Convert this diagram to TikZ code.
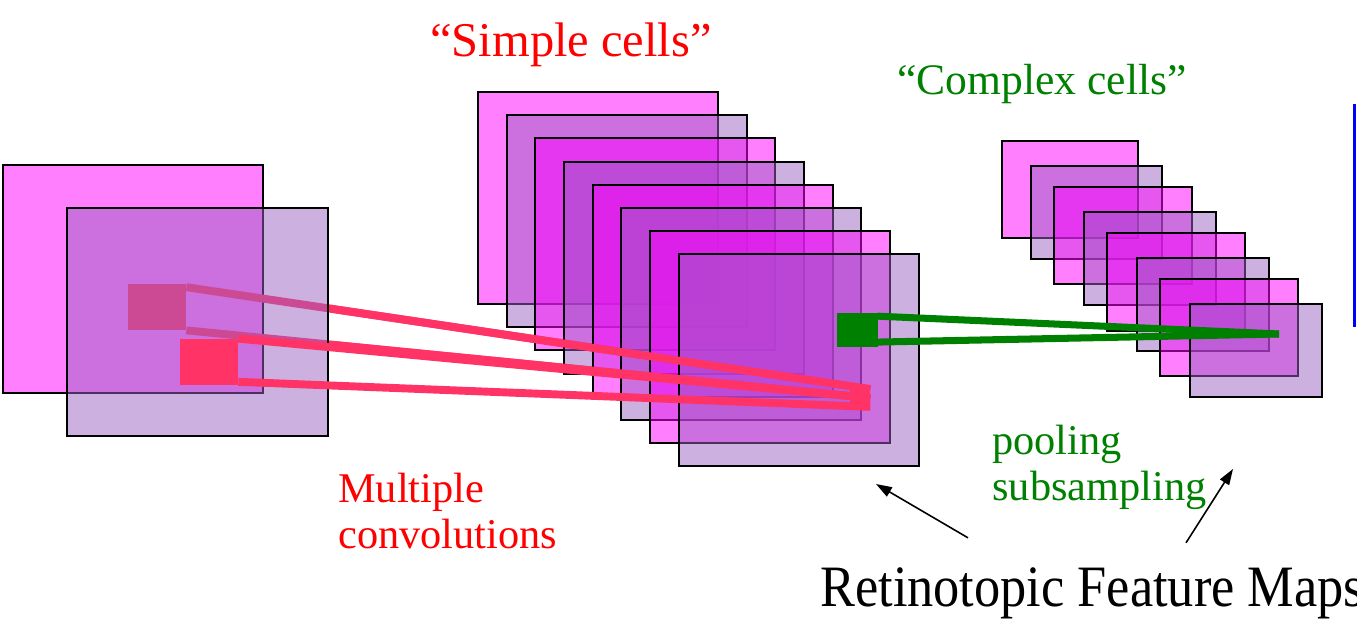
\documentclass[tikz,border=0pt]{standalone}
\usepackage{fontspec}
\setmainfont{Liberation Serif}
\usepackage{graphicx}
\usepackage{tikz}
\usetikzlibrary{positioning,arrows.meta,calc}
\definecolor{cnMagenta}{HTML}{FF00FF}
\definecolor{cnLilac}{HTML}{9961C1}
\definecolor{cnConv}{HTML}{FF3366}
\definecolor{cnPool}{HTML}{008000}
\definecolor{cnRed}{HTML}{FF0000}
\definecolor{cnBlue}{HTML}{0000FF}
\tikzset{
  cn-map/.style={draw=black, line width=1pt, fill opacity=0.5},
  cn-pink/.style={cn-map, fill=cnMagenta},
  cn-lilac/.style={cn-map, fill=cnLilac},
  cn-patch/.style={rectangle, inner sep=0pt, draw=none, fill=cnConv},
  cn-conv/.style={draw=cnConv, line width=4.5pt},
  cn-pool/.style={draw=cnPool, line width=4pt},
  cn-ptr/.style={-{Triangle[length=9pt,width=6pt]}, line width=0.9pt, draw=black},
  cn-text/.style={inner sep=0pt, align=left, font=\fontsize{24.1}{26}\selectfont}
}

\begin{document}
\begin{tikzpicture}[x=0.02cm, y=-0.02cm]
\useasboundingbox (0,0) rectangle (1357,621);

% Input image
\draw[cn-pink] (3,165) rectangle (263,393);
\node[cn-patch, minimum width=1.16cm, minimum height=0.92cm] (s1) at (157,307) {};
\node[cn-patch, minimum width=0.4cm, minimum height=0.34cm] (tgt) at (860,398) {};
\draw[cn-conv] ([yshift=-2pt]s1.north east) -- (tgt.north east);
\draw[cn-conv] (s1.south east) -- (tgt.east);
\draw[cn-lilac] (67,208) rectangle (328,436);

% Simple cells
\draw[cn-pink]  (478,92)  rectangle (718,304);
\draw[cn-lilac] (507,115) rectangle (747,327);
\draw[cn-pink]  (535,138) rectangle (775,350);
\draw[cn-lilac] (564,162) rectangle (804,374);
\draw[cn-pink]  (593,185) rectangle (833,397);
\draw[cn-lilac] (621,208) rectangle (861,420);
\draw[cn-pink]  (650,231) rectangle (890,443);
\draw[cn-lilac] (679,254) rectangle (919,466);

% Complex cells
\draw[cn-pink]  (1002,141) rectangle (1138,238);
\draw[cn-lilac] (1031,166) rectangle (1162,259);
\draw[cn-pink]  (1054,187) rectangle (1192,284);
\draw[cn-lilac] (1084,212) rectangle (1216,305);
\draw[cn-pink]  (1107,233) rectangle (1245,331);
\draw[cn-lilac] (1137,258) rectangle (1269,351);
\draw[cn-pink]  (1160,279) rectangle (1298,376);
\draw[cn-lilac] (1190,304) rectangle (1322,397);

% Convolution kernels
\begin{scope}
  \clip (330,0) rectangle (1357,621);
  \draw[cn-conv] ([yshift=-2pt]s1.north east) -- (tgt.north east);
  \draw[cn-conv] (s1.south east) -- (tgt.east);
\end{scope}
\node[cn-patch, minimum width=1.16cm, minimum height=0.92cm] (s2) at (209,362) {};
\draw[cn-conv] (s2.north east) -- (tgt.east);
\draw[cn-conv] ([yshift=2pt]s2.south east) -- (tgt.south east);
\node[cn-patch, minimum width=0.4cm, minimum height=0.34cm] at (tgt) {};

% Pooling
\node[cn-patch, fill=cnPool, minimum width=0.82cm, minimum height=0.68cm] (s3) at (857,330) {};
\coordinate (pool) at (1279,334);
\draw[cn-pool] ([yshift=-2pt]s3.north east) -- (pool);
\draw[cn-pool] ([yshift=3pt]s3.south east) -- (pool);

\draw[cnBlue, line width=1.8pt] (1354.5,104) -- (1354.5,327);

% Labels
\node[inner sep=0pt, anchor=base west, text=cnRed, font=\fontsize{27.6}{30}\selectfont]
  (simple) at (430,57) {“Simple cells”};
\node[inner sep=0pt, anchor=base west, text=cnPool, font=\fontsize{24.8}{27}\selectfont]
  (complex) at (897,95) {“Complex cells”};
\node[cn-text, text=cnRed, anchor=north west] (conv) at (338,473)
  {Multiple\\convolutions};
\node[cn-text, text=cnPool, anchor=north west] (subs) at (992,425)
  {pooling\\subsampling};
\node[inner sep=0pt, anchor=base west, font=\fontsize{29.8}{32}\selectfont]
  (rfm) at (820,607) {\scalebox{1}[1.12]{Retinotopic Feature Maps}};

\coordinate (simpTip) at (876,484);
\coordinate (compTip) at (1233,469);
\draw[cn-ptr] ($(rfm.north west)+(148,-30)$) -- (simpTip);
\draw[cn-ptr] ($(rfm.north west)+(366,-25)$) -- (compTip);
\end{tikzpicture}
\end{document}
